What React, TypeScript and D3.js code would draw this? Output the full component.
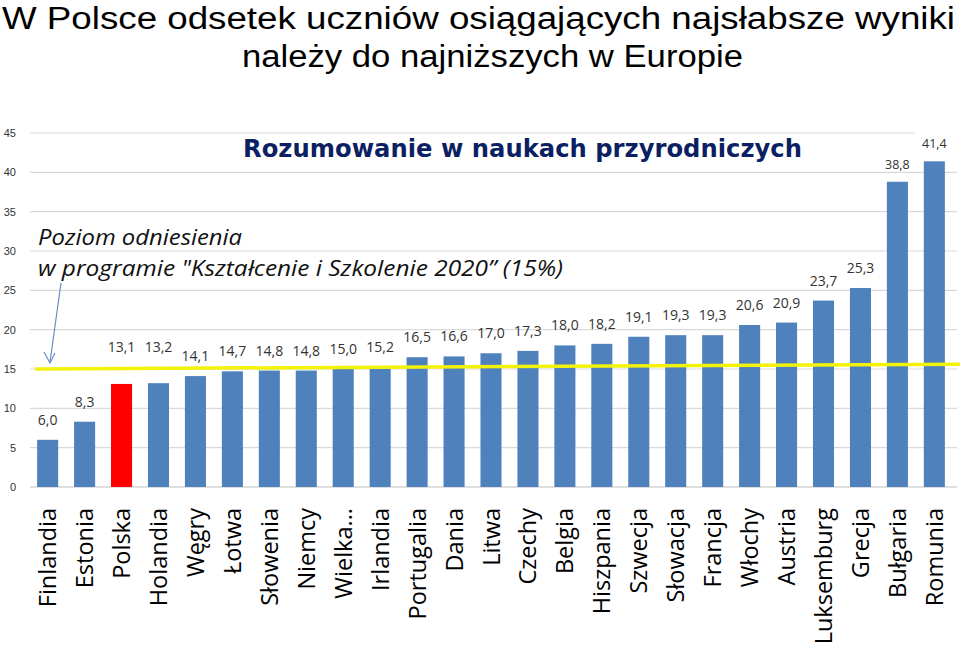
import * as d3 from 'd3';

// Rozumowanie w naukach przyrodniczych — odsetek uczniów z najsłabszymi wynikami
const countries = [
  'Finlandia', 'Estonia', 'Polska', 'Holandia', 'Węgry', 'Łotwa', 'Słowenia', 'Niemcy',
  'Wielka...', 'Irlandia', 'Portugalia', 'Dania', 'Litwa', 'Czechy', 'Belgia', 'Hiszpania',
  'Szwecja', 'Słowacja', 'Francja', 'Włochy', 'Austria', 'Luksemburg', 'Grecja', 'Bułgaria', 'Romunia',
];
const shares = [
  6.0, 8.3, 13.1, 13.2, 14.1, 14.7, 14.8, 14.8, 15.0, 15.2, 16.5, 16.6, 17.0, 17.3, 18.0, 18.2,
  19.1, 19.3, 19.3, 20.6, 20.9, 23.7, 25.3, 38.8, 41.4,
];
const yTicks = [0, 5, 10, 15, 20, 25, 30, 35, 40, 45];
const highlighted = 'Polska';
// reference level (15%), hand-drawn line rises slightly to the right
const refStart = 15;
const refEnd = 15.6;

const W = 960;
const H = 646;
const BLUE = '#4f81bd';
const RED = '#ff0000';
const GRID = '#d9d9d9';

export default function App() {
  const x = d3.scaleBand<string>()
    .domain(countries)
    .range([29, 953])
    .paddingInner(0.43)
    .paddingOuter(0.22);
  const y = d3.scaleLinear().domain([0, 45]).range([487, 133]);

  const fmt = (v: number) => v.toFixed(1).replace('.', ',');
  const bw = x.bandwidth();

  return (
    <div style={{ position: 'fixed', left: 0, top: 0 }}>
      <svg width={W} height={H} style={{ display: 'block', background: '#fff' }}>
        {/* title */}
        <g fontFamily="'Liberation Sans', Arial, sans-serif" fontSize={31} fill="#000">
          <text x={2} y={29} textLength={953} lengthAdjust="spacingAndGlyphs">
            W Polsce odsetek uczniów osiągających najsłabsze wyniki
          </text>
          <text x={242} y={67} textLength={501} lengthAdjust="spacingAndGlyphs">
            należy do najniższych w Europie
          </text>
        </g>

        {/* grid */}
        {yTicks.map(t => (
          <line key={t} x1={30} x2={t === 45 ? 915 : 957} y1={y(t)} y2={y(t)}
            stroke={t === 0 ? '#bfbfbf' : GRID} strokeWidth={1.2} />
        ))}
        {yTicks.map(t => (
          <text key={'l' + t} x={16} y={y(t) + 4} textAnchor="end"
            fontFamily="'Liberation Sans', Arial, sans-serif" fontSize={11} fill="#333">{t}</text>
        ))}

        {/* subtitle */}
        <text x={243} y={157} textLength={559} lengthAdjust="spacingAndGlyphs"
          fontFamily="'Comic Sans MS', 'DejaVu Sans', sans-serif" fontWeight="bold" fontSize={25} fill="#0d1f63">
          Rozumowanie w naukach przyrodniczych
        </text>

        {/* annotation */}
        <g fontFamily="'Open Sans', 'DejaVu Sans', sans-serif" fontStyle="italic" fontSize={21} fill="#111">
          <text x={38} y={245} textLength={204} lengthAdjust="spacingAndGlyphs">Poziom odniesienia</text>
          <text x={38} y={276} textLength={525} lengthAdjust="spacingAndGlyphs">
            w programie "Kształcenie i Szkolenie 2020” (15%)
          </text>
        </g>

        {/* bars */}
        {countries.map((c, i) => (
          <rect key={c} x={x(c)} y={y(shares[i])} width={bw} height={y(0) - y(shares[i])}
            fill={c === highlighted ? RED : BLUE} />
        ))}

        {/* reference line */}
        <line x1={35} x2={960} y1={y(refStart)} y2={y(refEnd)} stroke="#f2f20a" strokeWidth={3.5} />

        {/* arrow */}
        <g stroke="#6a8cc4" strokeWidth={1.2} fill="none">
          <line x1={61} y1={283} x2={50} y2={362} />
          <polyline points="44,352 50,363 55,353" />
        </g>

        {/* value labels */}
        {countries.map((c, i) => {
          const v = shares[i];
          // lift labels of bars just under the reference line above it
          const base = v >= 12 && v < 14 ? 15.2 : v;
          const big = v > 30;
          return (
            <text key={'v' + c} x={(x(c) as number) + bw / 2} y={y(base) - (big ? 13 : 15)}
              textAnchor="middle" fontFamily="'Open Sans', 'Liberation Sans', sans-serif"
              fontSize={big ? 12.5 : 14} fill="#333">{fmt(v)}</text>
          );
        })}

        {/* category labels */}
        {countries.map(c => {
          const cx = (x(c) as number) + bw / 2 + 8.5;
          return (
            <text key={'c' + c} transform={`translate(${cx},508) rotate(-90)`} textAnchor="end"
              fontFamily="'Open Sans', 'Liberation Sans', sans-serif" fontSize={23.5} fill="#000">{c}</text>
          );
        })}
      </svg>
    </div>
  );
}
